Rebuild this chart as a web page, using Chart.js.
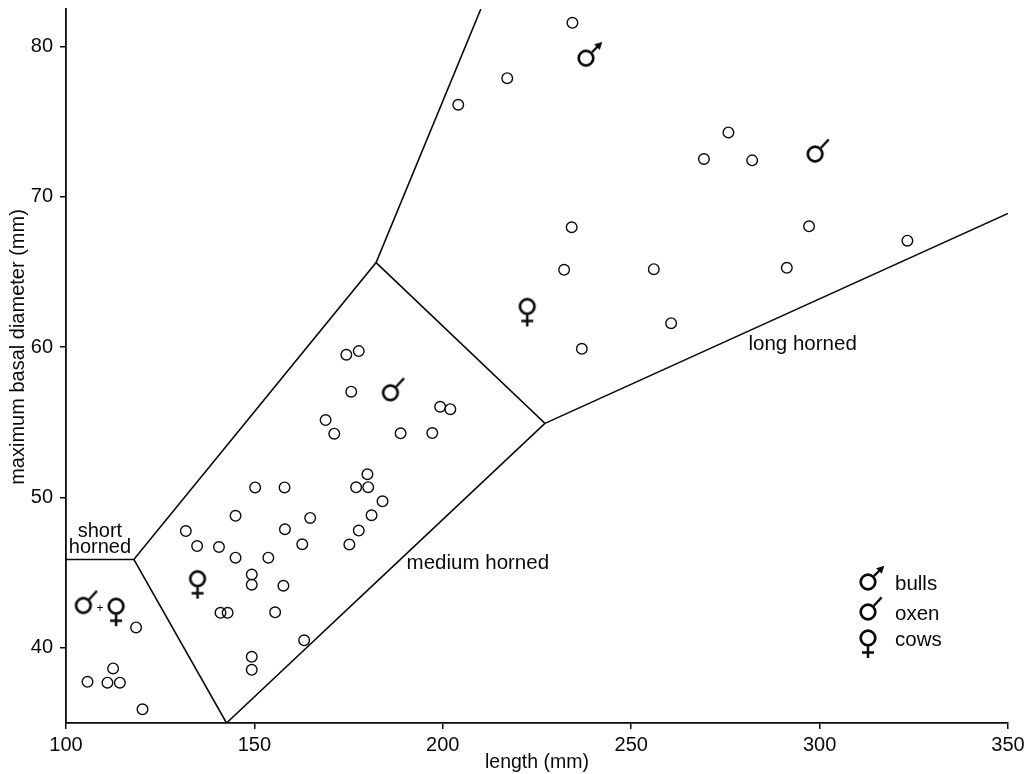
<!DOCTYPE html>
<html>
<head>
<meta charset="utf-8">
<script src="https://cdn.jsdelivr.net/npm/chart.js@4/dist/chart.umd.min.js"></script>
<style>
  html, body { margin: 0; padding: 0; background: #fff; }
  #grafico { display: block; }
</style>
</head>
<body>
<canvas id="grafico" width="1032" height="774"></canvas>
<script>
// DADOS: chifres sem sexo indicado (circulos simples)
const lengths = [
    105.7, 111.0, 114.3, 112.5, 118.6, 120.3,
    131.8, 134.8, 140.6, 145.0, 145.0, 153.7, 158.1, 164.8, 162.7, 149.3,
    149.3, 157.7, 141.0, 142.9, 155.5, 163.2, 149.3, 149.3, 150.2, 158.0,
    177.0, 180.2, 184.0, 181.1, 177.7, 175.2, 180.0, 168.9, 171.2, 188.8,
    197.2, 199.3, 202.0, 174.4, 177.7, 175.7,
    234.4, 217.1, 204.1, 275.8, 269.3, 282.1, 234.2, 297.2, 323.3, 232.2,
    256.0, 291.3, 260.6, 236.9
];
const diameters = [
    37.74, 37.68, 37.68, 38.63, 41.36, 35.91,
    47.77, 46.77, 46.71, 48.78, 46.00, 46.00, 47.89, 48.64, 46.89, 44.88,
    44.20, 44.13, 42.33, 42.33, 42.36, 40.50, 39.40, 38.54, 50.67, 50.67,
    50.68, 50.69, 49.75, 48.82, 47.80, 46.87, 51.55, 55.15, 54.25, 54.27,
    54.29, 56.04, 55.88, 59.50, 59.74, 57.04,
    81.58, 77.90, 76.13, 74.29, 72.52, 72.43, 67.98, 68.04, 67.09, 65.15,
    65.19, 65.28, 61.60, 59.89
];

// medias por grupo (simbolos)
const bullsLen = [238.0];
const bullsDiam = [79.23];
const oxenLen = [298.8, 186.1, 104.6];
const oxenDiam = [72.85, 56.97, 42.82];
const cowsLen = [222.4, 134.9, 113.3];
const cowsDiam = [62.71, 44.6, 42.77];

// linhas que separam as regioes
const boundaries = [
    [[100, 45.88], [118.0, 45.88], [182.3, 65.63], [210.1, 82.5]],
    [[118.0, 45.88], [142.6, 35]],
    [[182.3, 65.63], [227.1, 54.93], [350, 68.9]],
    [[227.1, 54.93], [142.6, 35]]
];

const xTicks = [100, 150, 200, 250, 300, 350];
const yTicks = [40, 50, 60, 70, 80];

const legendLabels = ['bulls', 'oxen', 'cows'];

const FONTE = '"Liberation Sans", Arial, Helvetica, sans-serif';
const TINTA = '#0a0a0a';

// desenha os simbolos de sexo num canvas pequeno (centro = centro do circulo)
function criarSimbolo(tipo) {
    const c = document.createElement('canvas');
    c.width = 50;
    c.height = 50;
    const g = c.getContext('2d');
    const cx = 25, cy = 25, r = 7.3;
    g.strokeStyle = TINTA;
    g.fillStyle = TINTA;
    g.lineWidth = 2.7;
    g.beginPath();
    g.arc(cx, cy, r, 0, Math.PI * 2);
    g.stroke();

    if (tipo === 'bull' || tipo === 'ox') {
        const ang = tipo === 'bull' ? Math.PI / 4 : 0.82;
        const ux = Math.cos(ang), uy = -Math.sin(ang);
        const comp = tipo === 'bull' ? 23 : 20;
        g.lineWidth = 2.3;
        g.beginPath();
        g.moveTo(cx + ux * (r + 1), cy + uy * (r + 1));
        if (tipo === 'bull') {
            g.lineTo(cx + ux * (comp - 5), cy + uy * (comp - 5));
        } else {
            g.lineTo(cx + ux * comp, cy + uy * comp);
        }
        g.stroke();
        if (tipo === 'bull') {
            const tx = cx + ux * comp, ty = cy + uy * comp;
            const bx = cx + ux * (comp - 7.5), by = cy + uy * (comp - 7.5);
            const nx = -uy, ny = ux;
            g.beginPath();
            g.moveTo(tx, ty);
            g.lineTo(bx + nx * 4, by + ny * 4);
            g.lineTo(bx - nx * 4, by - ny * 4);
            g.closePath();
            g.fill();
        }
    } else {
        g.lineWidth = 2.5;
        g.beginPath();
        g.moveTo(cx, cy + r + 1);
        g.lineTo(cx, cy + 20);
        g.moveTo(cx - 6, cy + 14.5);
        g.lineTo(cx + 6, cy + 14.5);
        g.stroke();
    }
    return c;
}

const simboloBull = criarSimbolo('bull');
const simboloOx = criarSimbolo('ox');
const simboloCow = criarSimbolo('cow');

function pares(xs, ys) {
    return xs.map((x, i) => ({ x: x, y: ys[i] }));
}

// rotulos das regioes (posicao em unidades dos eixos)
const rotulos = [
    { linhas: ['short', 'horned'], x: 109.0, y: 47.2, tamanho: 20 },
    { linhas: ['medium horned'], x: 209.3, y: 45.63, tamanho: 20.5 },
    { linhas: ['long horned'], x: 295.5, y: 60.18, tamanho: 20.5 },
    { linhas: ['+'], x: 109.0, y: 42.62, tamanho: 12 }
];

const pluginTextos = {
    id: 'textos',
    afterDatasetsDraw(chart) {
        const ctx = chart.ctx;
        const sx = chart.scales.x, sy = chart.scales.y;
        ctx.save();
        ctx.fillStyle = TINTA;
        ctx.textAlign = 'center';
        ctx.textBaseline = 'middle';
        rotulos.forEach(r => {
            ctx.font = r.tamanho + 'px ' + FONTE;
            const px = sx.getPixelForValue(r.x);
            const py = sy.getPixelForValue(r.y);
            const h = 15.5;
            r.linhas.forEach((t, i) => {
                ctx.fillText(t, px, py + (i - (r.linhas.length - 1) / 2) * h);
            });
        });

        // titulo do eixo y
        ctx.save();
        ctx.translate(18, 347);
        ctx.rotate(-Math.PI / 2);
        ctx.font = '20px ' + FONTE;
        ctx.fillText('maximum basal diameter (mm)', 0, 0);
        ctx.restore();

        // legenda (canto inferior direito)
        const simbolos = [simboloBull, simboloOx, simboloCow];
        const lx = 868, ly = [582, 612, 638];
        ctx.textAlign = 'left';
        ctx.font = '20.5px ' + FONTE;
        legendLabels.forEach((t, i) => {
            const s = simbolos[i];
            ctx.drawImage(s, lx - s.width / 2, ly[i] - s.height / 2);
            ctx.fillText(t, 895, ly[i] + 2);
        });
        ctx.restore();
    }
};

// MONTA OS DATASETS
const datasets = [];
boundaries.forEach(b => {
    datasets.push({
        data: b.map(p => ({ x: p[0], y: p[1] })),
        showLine: true,
        borderColor: TINTA,
        borderWidth: 1.6,
        pointRadius: 0,
        fill: false,
        tension: 0
    });
});
datasets.push({
    data: pares(lengths, diameters),
    pointStyle: 'circle',
    pointRadius: 5.3,
    borderWidth: 1.4,
    borderColor: TINTA,
    backgroundColor: 'rgba(0,0,0,0)'
});
datasets.push({ data: pares(bullsLen, bullsDiam), pointStyle: simboloBull, pointRadius: 8 });
datasets.push({ data: pares(oxenLen, oxenDiam), pointStyle: simboloOx, pointRadius: 8 });
datasets.push({ data: pares(cowsLen, cowsDiam), pointStyle: simboloCow, pointRadius: 8 });

const ctx = document.getElementById('grafico').getContext('2d');

const grafico = new Chart(ctx, {
    type: 'scatter',
    data: { datasets: datasets },
    options: {
        responsive: false,
        animation: false,
        layout: { padding: { left: 7, right: 24, top: 7, bottom: 0 } },
        plugins: {
            legend: { display: false },
            tooltip: { enabled: false }
        },
        scales: {
            x: {
                type: 'linear',
                min: 100,
                max: 350,
                afterBuildTicks: s => { s.ticks = xTicks.map(v => ({ value: v })); },
                afterFit: s => { s.height = 51; },
                ticks: { color: TINTA, font: { family: FONTE, size: 20 }, padding: 4 },
                grid: { drawOnChartArea: false, tickLength: 6, color: TINTA, lineWidth: 1.5 },
                border: { color: TINTA, width: 1.8 },
                title: {
                    display: true,
                    text: 'length (mm)',
                    color: TINTA,
                    font: { family: FONTE, size: 19.5 },
                    padding: { top: 0, bottom: 0 }
                }
            },
            y: {
                type: 'linear',
                min: 35,
                max: 82.5,
                afterBuildTicks: s => { s.ticks = yTicks.map(v => ({ value: v })); },
                afterFit: s => {
                    s.width = 59;
                    s.paddingTop = 0;
                    s.paddingBottom = 0;
                },
                ticks: { color: TINTA, font: { family: FONTE, size: 20 }, padding: 7 },
                grid: { drawOnChartArea: false, tickLength: 6, color: TINTA, lineWidth: 1.5 },
                border: { color: TINTA, width: 1.8 },
                title: { display: false }
            }
        }
    },
    plugins: [pluginTextos]
});
</script>
</body>
</html>
